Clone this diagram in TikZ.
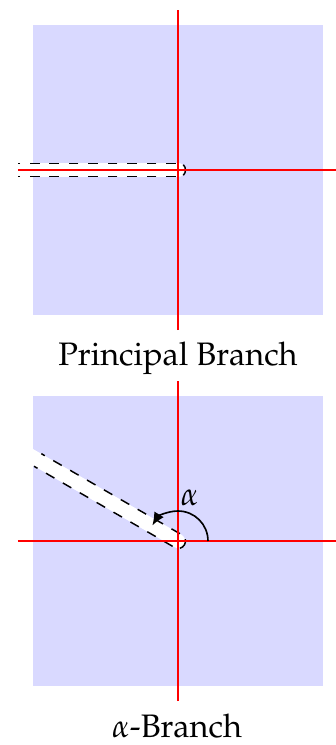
\documentclass[tikz,border=0pt]{standalone}
\usepackage[T1]{fontenc}
\usepackage{mathpazo}
\usetikzlibrary{arrows.meta,calc}
\tikzset{
  panel/.style={fill=blue!15, draw=none},
  axis/.style={red, line width=0.6pt},
  slitband/.style={white, line width=4.4pt, line cap=round},
  slitedge/.style={black, line width=0.45pt, dashed},
  smallarc/.style={black, line width=0.45pt},
  anglearc/.style={black, line width=0.5pt, -{Latex[length=4pt,width=3.4pt]}},
  caption/.style={font=\fontsize{10}{12}\selectfont, anchor=base, inner sep=0pt}
}
\begin{document}
\begin{tikzpicture}[x=0.3077pt,y=0.3077pt]
\useasboundingbox (0,0) rectangle (336,745);
% ---------- top panel: principal branch ----------
\fill[panel] (33,430) rectangle (323,720);
\coordinate (O1) at (178,575);
\coordinate (S1) at (8,575);
\draw[slitband] (O1) -- (S1);
\draw[slitedge] ($(O1)+(-2,6.7)$) -- ($(O1)+(-160,6.7)$);
\draw[slitedge] ($(O1)+(-2,-6.7)$) -- ($(O1)+(-160,-6.7)$);
\draw[smallarc] ($(O1)+(-45:7.5)$) arc[start angle=-45, end angle=45, radius=7.5];
\coordinate (L1) at (18,575);
\coordinate (R1) at (336,575);
\coordinate (T1) at (178,735);
\coordinate (B1) at (178,415);
\draw[axis] (L1) -- (R1);
\draw[axis] (B1) -- (T1);
\node[caption] (cap1) at (178,380) {Principal Branch};
% ---------- bottom panel: alpha branch ----------
\fill[panel] (33,59) rectangle (323,349);
\coordinate (O2) at (178,204);
\coordinate (S2) at ($(O2)+(150:185)$);
\draw[slitband] (O2) -- (S2);
\draw[slitedge] ($(O2)+(60:7.3)+(150:2)$) -- ($(O2)+(60:7.3)+(150:162)$);
\draw[slitedge] ($(O2)+(240:7.3)+(150:2)$) -- ($(O2)+(240:7.3)+(150:162)$);
\draw[smallarc] ($(O2)+(-75:7.5)$) arc[start angle=-75, end angle=15, radius=7.5];
\coordinate (L2) at (18,204);
\coordinate (R2) at (336,204);
\coordinate (T2) at (178,364);
\coordinate (B2) at (178,44);
\draw[axis] (L2) -- (R2);
\draw[axis] (B2) -- (T2);
\draw[anglearc] ($(O2)+(0:30)$) arc[start angle=0, end angle=149, radius=30];
\node[font=\fontsize{10}{12}\selectfont, inner sep=0pt] (alab) at ($(O2)+(75:45)$) {$\alpha$};
\node[caption] (cap2) at (177,7) {$\alpha$-Branch};
\end{tikzpicture}
\end{document}
